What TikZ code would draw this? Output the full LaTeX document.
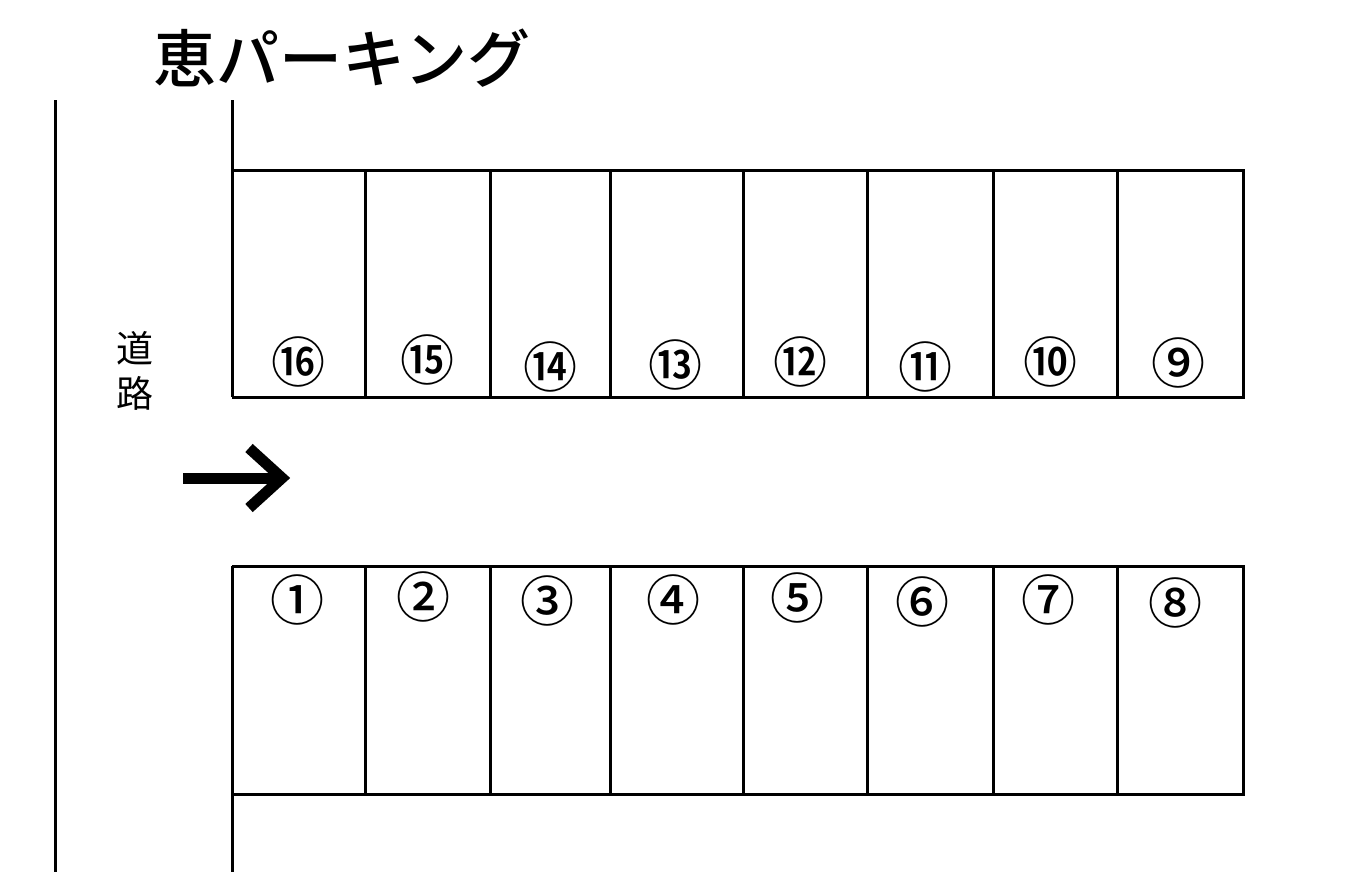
\documentclass[tikz,border=0pt]{standalone}
\usepackage{fontspec}
\newfontfamily\cjk{Noto Sans CJK JP}
\newfontfamily\cjkm{Noto Sans CJK JP Medium}
\begin{document}
\begin{tikzpicture}[x=1pt,y=-1pt,
  wall/.style={line width=3pt},
  num/.style={font=\cjkm\fontsize{54}{54}\selectfont, inner sep=0pt},
  lbl/.style={font=\cjk\fontsize{37}{37}\selectfont, inner sep=0pt}]
\useasboundingbox (0,0) rectangle (1360,883);
% title
\node[font=\cjkm\fontsize{63}{63}\selectfont, inner sep=0pt] (title) at (342,58) {恵パーキング};
% road lines
\draw[wall] (55,100) -- (55,872);
\draw[wall] (232,100) -- (232,397);
\draw[wall] (232,566) -- (232,872);
% top row
\draw[wall] (232,170) -- (1243,170) -- (1243,397) -- (232,397);
\foreach \x in {365,490,610,743,867,993,1117}
  \draw[wall] (\x,170) -- (\x,397);
% bottom row
\draw[wall] (232,566) -- (1243,566) -- (1243,794) -- (232,794);
\foreach \x in {365,490,610,743,867,993,1117}
  \draw[wall] (\x,566) -- (\x,794);
% road label
\node[lbl] (d1) at (135,348) {道};
\node[lbl] (d2) at (135,393) {路};
% arrow
\draw[line width=11pt] (183,478) -- (278,478);
\draw[line width=11pt, miter limit=10] (249,448) -- (282,478) -- (249,508);
% numbers
\node[num] (n16) at (298,362) {⑯};
\node[num] (n15) at (427,360) {⑮};
\node[num] (n14) at (550,367) {⑭};
\node[num] (n13) at (675,365) {⑬};
\node[num] (n12) at (800,362) {⑫};
\node[num] (n11) at (925,367) {⑪};
\node[num] (n10) at (1050,362) {⑩};
\node[num] (n9) at (1178,363) {⑨};
\node[num] (n1) at (297,600) {①};
\node[num] (n2) at (423,597) {②};
\node[num] (n3) at (547,601) {③};
\node[num] (n4) at (673,600) {④};
\node[num] (n5) at (797,598) {⑤};
\node[num] (n6) at (922,602) {⑥};
\node[num] (n7) at (1048,600) {⑦};
\node[num] (n8) at (1175,603) {⑧};
\end{tikzpicture}
\end{document}
